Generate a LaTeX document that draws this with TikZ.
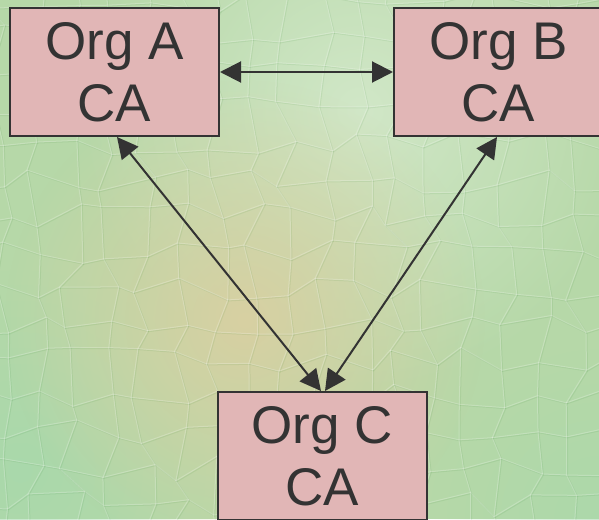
\documentclass[tikz,border=0pt]{standalone}
\usepackage{fontspec}
\setmainfont{Liberation Sans}
\usetikzlibrary{arrows.meta,fadings}

\definecolor{boxfill}{HTML}{E1B6B6}
\definecolor{ink}{HTML}{333333}
\definecolor{bgbase}{HTML}{B6D8A8}
\definecolor{bglight}{HTML}{D6EACD}
\definecolor{bgtan}{HTML}{D8D0A2}
\definecolor{bgteal}{HTML}{A6D8AC}

\tikzfading[name=softspot, inner color=transparent!0, outer color=transparent!100]

\tikzset{
  orgbox/.style={draw=ink, line width=2pt, fill=boxfill, rectangle,
    minimum width=209pt, minimum height=128pt, inner sep=0pt,
    align=center, text=ink, font=\fontsize{53pt}{62pt}\selectfont},
  link/.style={draw=ink, line width=2pt,
    {Triangle[length=21pt,width=21pt]}-{Triangle[length=21pt,width=21pt]}},
  cellhi/.style={white, opacity=.22, line width=1pt, line join=round},
  celllo/.style={black!60!green, opacity=.07, line width=1pt, line join=round}
}

\begin{document}
\begin{tikzpicture}[x=1pt,y=-1pt]
\useasboundingbox (0,0) rectangle (599,519);

% textured green backdrop
\begin{scope}
  \clip (0,0) rectangle (599,519);
  \fill[bgbase] (0,0) rectangle (599,519);
  \fill[bglight, path fading=softspot, opacity=.85] (360,110) circle (280);
  \fill[bgteal, path fading=softspot, opacity=.8] (20,470) circle (200);
  \fill[bgteal, path fading=softspot, opacity=.6] (600,519) circle (170);
  \fill[bgtan, path fading=softspot, opacity=1] (245,320) circle (240);

  % irregular cell pattern
  \pgfmathsetseed{11}
  \foreach \i in {-1,...,17}{
    \foreach \j in {-1,...,15}{
      \pgfmathsetmacro\dx{rand*13}
      \pgfmathsetmacro\dy{rand*13}
      \coordinate (g-\i-\j) at (\i*36+\dx, \j*36+\dy);
    }
  }
  \foreach \i in {-1,...,16}{
    \foreach \j in {-1,...,14}{
      \pgfmathtruncatemacro\ni{\i+1}
      \pgfmathtruncatemacro\nj{\j+1}
      \draw[celllo] ([shift={(1,1)}]g-\i-\j) -- ([shift={(1,1)}]g-\ni-\j);
      \draw[celllo] ([shift={(1,1)}]g-\i-\j) -- ([shift={(1,1)}]g-\i-\nj);
      \draw[cellhi] (g-\i-\j) -- (g-\ni-\j);
      \draw[cellhi] (g-\i-\j) -- (g-\i-\nj);
    }
  }
\end{scope}

% the three certificate authorities
\node[orgbox] (A) at (114.5,72) {Org A\\CA};
\node[orgbox] (B) at (498.5,72) {Org B\\CA};
\node[orgbox] (C) at (322,456) {Org C\\CA};

% trust links
\draw[link] (A.east) -- (B.west);
\draw[link] ([xshift=2.5pt]A.south) -- ([xshift=-1pt]C.north);
\draw[link] ([xshift=-1.5pt]B.south) -- ([xshift=3pt]C.north);
\end{tikzpicture}
\end{document}
